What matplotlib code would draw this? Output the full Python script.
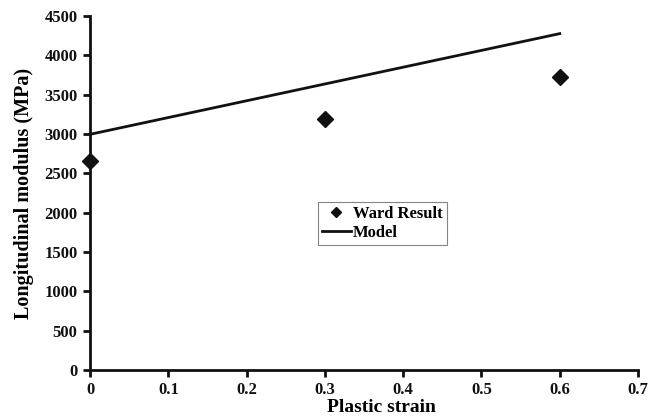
import matplotlib
matplotlib.use("Agg")
import matplotlib.pyplot as plt

ward_x = [0.0, 0.3, 0.6]
ward_y = [2655, 3190, 3730]
model_x = [0.0, 0.6]
model_y = [2995, 4275]
x_ticks = [0, 0.1, 0.2, 0.3, 0.4, 0.5, 0.6, 0.7]
x_tick_labels = ["0", "0.1", "0.2", "0.3", "0.4", "0.5", "0.6", "0.7"]
y_ticks = [0, 500, 1000, 1500, 2000, 2500, 3000, 3500, 4000, 4500]

plt.rcParams['font.family'] = ['Liberation Serif', 'DejaVu Serif']
plt.rcParams['font.weight'] = 'bold'

fig = plt.figure(figsize=(6.62, 4.19), dpi=100)
ax = fig.add_axes([0.136, 0.117, 0.8278, 0.845])

ax.plot(ward_x, ward_y, linestyle='none', marker='D', markersize=8,
        color='#111111', label='Ward Result', clip_on=False, zorder=3)
ax.plot(model_x, model_y, color='#111111', linewidth=2, label='Model',
        clip_on=False)

ax.set_xlim(0, 0.7)
ax.set_ylim(0, 4500)
ax.set_xticks(x_ticks)
ax.set_xticklabels(x_tick_labels)
ax.set_yticks(y_ticks)

for s in ['top', 'right']:
    ax.spines[s].set_visible(False)
for s in ['left', 'bottom']:
    ax.spines[s].set_linewidth(2)
    ax.spines[s].set_color('#111111')

ax.tick_params(axis='both', direction='out', length=5, width=2,
               labelsize=12, colors='#111111')
ax.tick_params(axis='x', pad=3.5)
ax.tick_params(axis='y', pad=4)
for lab in ax.get_xticklabels() + ax.get_yticklabels():
    lab.set_fontweight('bold')

ax.set_ylabel('Longitudinal modulus (MPa)', fontsize=14.5, fontweight='bold')
ax.yaxis.set_label_coords(-0.102, 0.5)

leg = ax.legend(loc='upper left', bbox_to_anchor=(0.416, 0.4746),
                frameon=True, fancybox=False, fontsize=12,
                handlelength=1.7, handletextpad=0.15, borderpad=0.25,
                labelspacing=0.15, borderaxespad=0, markerscale=0.65)
leg.get_frame().set_edgecolor('#666666')
leg.get_frame().set_linewidth(0.8)
for t in leg.get_texts():
    t.set_fontweight('bold')

# x label placed just under the tick labels, without overlapping them
fig.canvas.draw()
renderer = fig.canvas.get_renderer()
tick_bottom = min(t.get_window_extent(renderer).y0 for t in ax.get_xticklabels())
xl = fig.text(0, 0, 'Plastic strain', fontsize=14, fontweight='bold',
              ha='center', va='top')
xc = ax.transAxes.transform((0.532, 0))[0]
xl.set_position(fig.transFigure.inverted().transform((xc, tick_bottom - 1)))
fig.canvas.draw()
bb = xl.get_window_extent(renderer)
if bb.y0 < 0:
    xl.set_fontsize(14 * (tick_bottom - 1) / bb.height)

fig.savefig('out.png', dpi=100)
